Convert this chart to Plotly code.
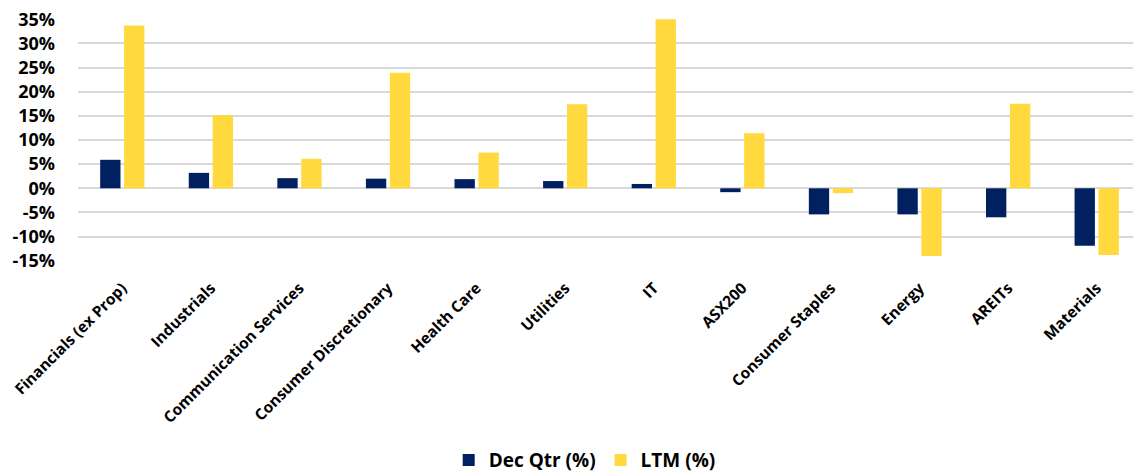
import plotly.graph_objects as go

categories = ["Financials (ex Prop)", "Industrials", "Communication Services",
              "Consumer Discretionary", "Health Care", "Utilities", "IT", "ASX200",
              "Consumer Staples", "Energy", "AREITs", "Materials"]
dec_qtr = [5.9, 3.2, 2.1, 2.0, 1.9, 1.5, 0.9, -0.8, -5.4, -5.4, -6.0, -11.9]
ltm = [33.7, 15.1, 6.1, 23.9, 7.4, 17.4, 35.0, 11.4, -1.0, -14.0, 17.5, -13.8]
y_ticks = [-15, -10, -5, 0, 5, 10, 15, 20, 25, 30, 35]
y_tick_labels = [f"{v}%" for v in y_ticks]

FONT = "Open Sans"

fig = go.Figure()
fig.add_trace(go.Bar(x=categories, y=dec_qtr, name="Dec Qtr (%)",
                     marker=dict(color="#002060", line=dict(width=0))))
fig.add_trace(go.Bar(x=categories, y=ltm, name="LTM (%)",
                     marker=dict(color="#FFD93D", line=dict(width=0))))

fig.update_layout(
    width=1133, height=468,
    margin=dict(l=70, r=0, t=11, b=215, autoexpand=False),
    plot_bgcolor="white", paper_bgcolor="white",
    barmode="group", bargap=0.46, bargroupgap=0.15,
    font=dict(family=FONT, color="black", weight="bold"),
    showlegend=True,
    legend=dict(orientation="h", xref="container", yref="container",
                x=0.509, xanchor="center", y=0.034, yanchor="middle",
                font=dict(size=19, family=FONT, weight="bold"), itemwidth=30,
                traceorder="normal"),
)
fig.update_yaxes(range=[-15.05, 35.05], tickvals=y_ticks, ticktext=y_tick_labels,
                 showgrid=True, gridcolor="#d9d9d9", gridwidth=2,
                 zeroline=True, zerolinecolor="#d9d9d9", zerolinewidth=2,
                 tickfont=dict(size=18, family=FONT, weight="bold"),
                 ticklabelstandoff=22, ticklabeloverflow="allow",
                 showline=False, fixedrange=True, automargin=False)
fig.update_xaxes(tickangle=-45, tickfont=dict(size=15.5, family=FONT, weight="bold"),
                 showline=False, showgrid=False, ticklabelstandoff=14,
                 ticklabeloverflow="allow", automargin=False)

fig.write_html("out.html")
